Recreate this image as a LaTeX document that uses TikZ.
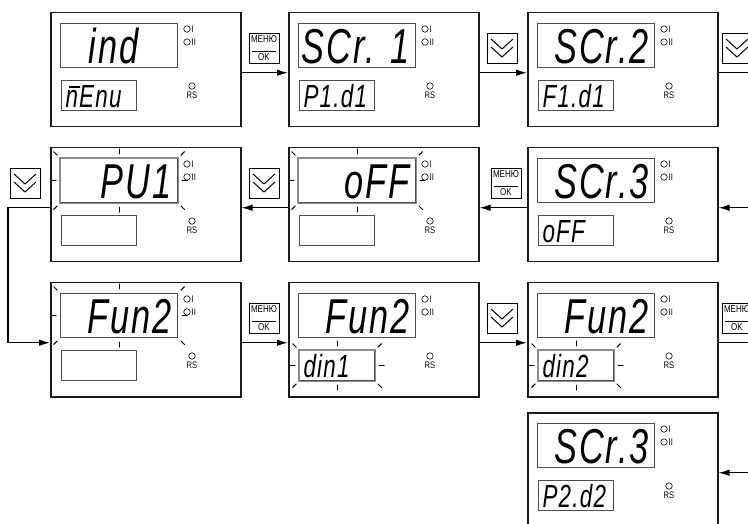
\documentclass[tikz,border=0pt]{standalone}
\usepackage{fontspec}
\setmainfont{Liberation Sans}
\newfontfamily\narrowfont[FakeStretch=0.8]{Liberation Sans}
\newfontfamily\segfont[FakeStretch=0.7, LetterSpace=4]{Liberation Sans}
\usetikzlibrary{arrows.meta, positioning, calc}
\definecolor{cframe}{HTML}{1A1A1A}
\definecolor{cdisp}{HTML}{4D4D4D}
\definecolor{cblink}{HTML}{8C8C8C}
\tikzset{
  every picture/.style={x=1pt, y=-1pt, line width=1pt},
  panel/.style={draw=cframe, line width=1.5pt, minimum width=190pt, minimum height=114pt, anchor=north west, inner sep=0pt},
  upper/.style={draw=cdisp, line width=1.1pt, minimum width=117pt, minimum height=44pt, anchor=north west, inner sep=0pt},
  lower/.style={upper, minimum width=75pt, minimum height=30pt},
  blinkframe/.style={draw=cblink, line width=1.1pt},
  bigseg/.style={font=\segfont\itshape\fontsize{49}{49}\selectfont, anchor=base east, inner sep=0pt},
  smallseg/.style={font=\segfont\itshape\fontsize{32}{32}\selectfont, anchor=base west, inner sep=0pt},
  led/.style={circle, draw, line width=0.6pt, minimum size=6.5pt, inner sep=0pt},
  ledtxt/.style={font=\narrowfont\fontsize{9.5}{9.5}\selectfont, inner sep=0.6pt},
  button/.style={draw, line width=0.8pt, minimum width=30pt, minimum height=30pt, inner sep=0pt},
  menu/.style={button, align=center, font=\narrowfont\fontsize{10}{10}\selectfont},
  chevron/.style={line width=1pt},
  flow/.style={-{Latex[length=11pt, width=6.5pt]}, line width=1.2pt},
  wire/.style={line width=1.2pt},
  tick/.style={line width=1pt, line cap=round},
}

\begin{document}
\begin{tikzpicture}
  \useasboundingbox (0,0) rectangle (748,524);
  % instrument front panels
  \foreach \p/\x/\y in {a/50/12, b/288/12, c/527/12, d/50/147, e/288/147, f/527/147,
      g/50/282, h/288/282, i/527/282, j/527/412} {
    \node[panel] (\p) at (\x,\y) {};
    \node[upper] (\p-u) at ([shift={(10,11)}]\p.north west) {};
    \node[lower] (\p-l) at ([shift={(11,68)}]\p.north west) {};
    \node[led] (\p-1) at ([shift={(137,17)}]\p.north west) {};
    \node[ledtxt, right=0pt of \p-1] (\p-1t) {I};
    \node[led] (\p-2) at ([shift={(137,30)}]\p.north west) {};
    \node[ledtxt, right=0pt of \p-2] (\p-2t) {II};
    \node[led] (\p-r) at ([shift={(142,74)}]\p.north west) {};
    \node[ledtxt, below=0.8pt of \p-r] (\p-rt) {RS};
    \coordinate (\p-in) at ([shift={(0,3)}]\p.west);
    \coordinate (\p-out) at ([shift={(0,3)}]\p.east);
  }
  % display readings
  \foreach \p/\utext in {a/ind\hspace*{33pt}, b/SCr. 1, c/SCr.2, d/PU1, e/oFF, f/SCr.3,
      g/Fun2, h/Fun2, i/Fun2, j/SCr.3}
    \node[bigseg] (\p-ut) at ([shift={(-6,-5)}]\p-u.south east) {\utext};
  \foreach \p/\ltext in {a/{\rlap{\hspace{3.5pt}\raisebox{19pt}{\rule{11pt}{2.4pt}}}n}Enu, b/P1.d1,
      c/F1.d1, f/oFF, h/din1, i/din2, j/P2.d2}
    \node[smallseg] (\p-lt) at ([shift={(4,-4)}]\p-l.south west) {\ltext};
  % blinking values
  \foreach \disp in {d-u, e-u, h-l, i-l}
    \draw[blinkframe] (\disp.north west) rectangle (\disp.south east);
  \foreach \disp in {d-u, e-u, g-u, h-l, i-l}
    \foreach \anc/\dx/\dy in {north/0/-1, south/0/1, east/1/0, west/-1/0,
        north east/.7/-.7, north west/-.7/-.7, south east/.7/.7, south west/-.7/.7}
      \draw[tick] ([shift={(4*\dx,4*\dy)}]\disp.\anc) -- ([shift={(9*\dx,9*\dy)}]\disp.\anc);
  % keys
  \foreach \btn/\x/\y in {m1/264/48, m2/506/183, m3/264/318, m4/737/318}
    \node[menu] (\btn) at (\x,\y) {МЕНЮ\\[-1pt]\rule{24pt}{0.7pt}\\[-1pt]OK};
  \foreach \btn/\x/\y in {s1/502/48, s2/737/48, s3/25/183, s4/264/183, s5/502/318} {
    \node[button] (\btn) at (\x,\y) {};
    \draw[chevron] ([shift={(-11,-9)}]\btn.center) -- ++(11,10) -- ++(11,-10);
    \draw[chevron] ([shift={(-11,-1)}]\btn.center) -- ++(11,10) -- ++(11,-10);
  }
  % transitions
  \coordinate (edge1) at ([xshift=40pt]c-out);
  \coordinate (edge2) at ([xshift=40pt]f-out);
  \coordinate (edge3) at ([xshift=40pt]i-out);
  \coordinate (edge4) at ([xshift=40pt]j-out);
  \draw[flow] (a-out) -- (b-in);
  \draw[flow] (b-out) -- (c-in);
  \draw[wire] (c-out) -- (edge1);
  \draw[flow] (edge2) -- (f-out);
  \draw[flow] (f-in) -- (e-out);
  \draw[flow] (e-in) -- (d-out);
  \draw[flow] (d-in) -- ++(-42,0) |- (g-in);
  \draw[flow] (g-out) -- (h-in);
  \draw[flow] (h-out) -- (i-in);
  \draw[wire] (i-out) -- (edge3);
  \draw[flow] (edge4) -- (j-out);
\end{tikzpicture}
\end{document}
